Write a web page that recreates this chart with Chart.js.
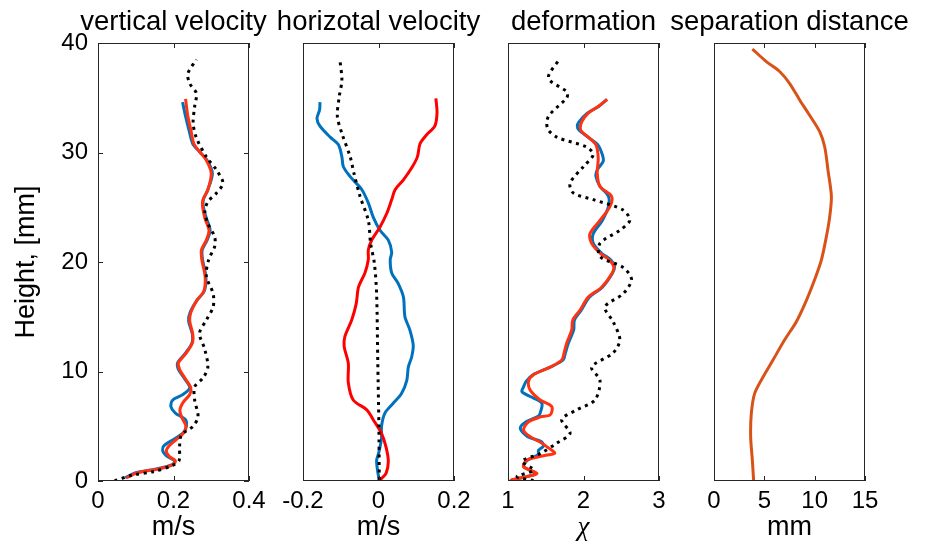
<!DOCTYPE html>
<html><head><meta charset="utf-8">
<script src="https://cdn.jsdelivr.net/npm/chart.js@4/dist/chart.umd.min.js"></script>
<style>
body{margin:0;background:#fff;width:930px;height:544px;position:relative;overflow:hidden}
canvas{position:absolute;top:0}
</style></head><body>
<canvas id="c1" width="347" height="544" style="left:0px;width:347px;height:544px"></canvas>
<canvas id="c2" width="301" height="544" style="left:228px;width:301px;height:544px"></canvas>
<canvas id="c3" width="301" height="544" style="left:433px;width:301px;height:544px"></canvas>
<canvas id="c4" width="289" height="544" style="left:645px;width:289px;height:544px"></canvas>
<script>
// ---------- data ----------
const panelTitles = ['vertical velocity','horizotal velocity','deformation','separation distance'];
const xAxisTitles = ['m/s','m/s','χ','mm'];
const heightTicks = [0,10,20,30,40];
const heightTickLabels = ['0','10','20','30','40'];
const vertTicks = [0,0.2,0.4];
const vertTickLabels = ['0','0.2','0.4'];
const horzTicks = [-0.2,0,0.2];
const horzTickLabels = ['-0.2','0','0.2'];
const defTicks = [1,2,3];
const defTickLabels = ['1','2','3'];
const sepTicks = [0,5,10,15];
const sepTickLabels = ['0','5','10','15'];

// vertical velocity
const vertRedH = [0.3,0.75,1.1,1.5,1.85,2.2,2.7,3.2,3.8,4.4,5.0,5.8,6.5,7.2,7.9,8.5,9.4,10.2,10.8,11.6,12.6,13.4,14.6,15.4,16.5,17.3,18.6,20.2,21.1,22.0,22.9,24.0,25.05,25.7,26.6,28.1,29.3,30.07,30.8,32.05,33.3,34.9];
const vertRedV = [0.075,0.105,0.16,0.199,0.205,0.19,0.181,0.188,0.208,0.227,0.233,0.222,0.217,0.226,0.243,0.246,0.23,0.216,0.213,0.232,0.25,0.251,0.243,0.246,0.262,0.28,0.284,0.275,0.274,0.287,0.294,0.283,0.277,0.278,0.291,0.300,0.287,0.269,0.254,0.246,0.238,0.232];
const vertBlueH = [0.3,0.75,1.1,1.5,1.85,2.2,2.7,3.2,3.8,4.4,5.0,5.6,6.2,6.8,7.4,7.9,8.5,9.4,10.2,10.8,11.6,12.6,13.4,14.6,15.4,16.5,17.3,18.6,20.2,21.1,22.0,22.9,24.0,25.05,25.7,26.6,28.1,29.3,30.07,30.8,32.05,33.3,34.6];
const vertBlueV = [0.072,0.10,0.155,0.197,0.203,0.185,0.172,0.174,0.200,0.226,0.234,0.232,0.205,0.193,0.198,0.225,0.243,0.228,0.213,0.211,0.230,0.249,0.25,0.24,0.244,0.262,0.281,0.286,0.277,0.276,0.289,0.297,0.287,0.279,0.279,0.291,0.303,0.289,0.269,0.251,0.241,0.232,0.224];
const vertBlackH = [0.03,0.55,0.85,1.45,1.9,3.1,4.2,5.0,5.9,7.4,8.6,9.4,10.4,12.0,13.5,14.7,15.9,17.1,18.7,20.2,21.4,22.3,23.5,24.6,25.5,26.3,27.2,28.4,29.6,31.4,32.7,34.2,35.4,36.3,37.2,38.5];
const vertBlackV = [0.044,0.093,0.146,0.199,0.215,0.216,0.221,0.252,0.265,0.256,0.256,0.278,0.291,0.283,0.269,0.287,0.305,0.305,0.287,0.293,0.309,0.309,0.291,0.283,0.291,0.314,0.331,0.314,0.287,0.26,0.252,0.256,0.2606,0.243,0.238,0.2606];

// horizontal velocity
const horzBlueH = [0.1,0.85,1.9,2.5,3.9,5.0,6.2,7.1,8.0,9.2,10.4,11.35,12.4,13.8,15.0,16.8,18.05,19.0,20.2,20.9,22.0,22.9,24.1,25.4,26.6,27.8,28.7,29.6,30.7,31.4,32.4,33.1,33.9,34.6];
const horzBlueV = [0.002,-0.002,-0.005,0.0,0.008,0.008,0.017,0.039,0.061,0.075,0.079,0.088,0.092,0.083,0.070,0.066,0.052,0.035,0.031,0.035,0.026,0.004,-0.014,-0.027,-0.044,-0.075,-0.093,-0.097,-0.106,-0.128,-0.155,-0.163,-0.156,-0.155];
const horzRedH = [0.1,0.7,1.8,3.1,4.35,5.6,6.5,7.4,9.0,10.75,12.3,13.2,14.7,16.2,17.7,19.0,20.2,21.1,22.0,23.2,24.45,25.7,26.6,27.5,28.6,29.6,30.8,31.6,32.4,33.6,34.95];
const horzRedV = [0.004,0.020,0.026,0.020,0.008,-0.014,-0.031,-0.067,-0.080,-0.080,-0.091,-0.089,-0.071,-0.059,-0.053,-0.036,-0.027,-0.027,-0.018,0.004,0.022,0.035,0.044,0.066,0.088,0.103,0.110,0.127,0.149,0.155,0.152];
const horzBlackH = [0.1,5.0,11.05,17.1,19.9,21.7,23.8,26.0,28.1,29.6,31.75,33.3,35.1,36.6,38.4];
const horzBlackV = [0.002,0.001,-0.002,-0.005,-0.011,-0.021,-0.027,-0.049,-0.065,-0.075,-0.097,-0.109,-0.104,-0.097,-0.102];

// deformation
const defRedH = [0.03,0.15,0.4,0.7,1.3,1.9,2.35,2.55,3.0,3.45,4.05,4.65,5.4,5.85,6.05,6.8,7.4,8.3,9.1,9.7,10.4,11.05,11.7,12.6,13.8,14.7,15.6,16.8,17.7,19.0,19.6,20.2,20.8,21.7,22.6,23.8,25.05,26.0,26.9,28.1,29.5,30.7,31.4,32.05,32.8,33.6,34.2,34.85];
const defRedV = [1.03,1.074,1.25,1.383,1.206,1.25,1.5,1.62,1.54,1.449,1.294,1.206,1.272,1.43,1.56,1.58,1.426,1.294,1.272,1.338,1.558,1.712,1.743,1.778,1.844,1.858,1.954,2.063,2.24,2.38,2.40,2.34,2.22,2.108,2.086,2.218,2.35,2.372,2.218,2.182,2.195,2.165,2.063,1.963,1.976,2.063,2.195,2.314];
const defBlueH = [0.03,0.15,0.4,0.7,1.3,1.9,2.4,2.8,3.2,3.6,4.05,4.8,5.4,5.9,6.2,7.1,7.6,8.15,8.6,9.1,9.7,10.4,11.05,11.7,12.6,13.8,14.7,15.6,16.8,17.7,19.0,19.6,20.2,20.8,21.7,22.6,23.8,25.05,26.0,26.9,27.8,28.4,29.2,29.8,30.7,31.4,32.05,32.4,32.8,33.6,34.2,34.85];
const defBlueV = [1.03,1.08,1.25,1.37,1.21,1.26,1.40,1.404,1.47,1.44,1.26,1.162,1.24,1.40,1.426,1.449,1.33,1.185,1.206,1.24,1.33,1.56,1.73,1.76,1.80,1.87,1.88,1.97,2.08,2.25,2.385,2.41,2.36,2.24,2.13,2.13,2.25,2.33,2.33,2.22,2.165,2.18,2.261,2.25,2.19,2.06,1.94,1.918,1.94,2.05,2.2,2.31];
const defBlackH = [0.03,0.4,1.0,1.8,2.5,3.45,4.35,5.6,6.5,7.4,9.2,10.4,11.7,12.9,14.55,15.9,17.1,18.4,19.5,20.5,21.7,22.9,23.8,24.75,25.7,26.3,27.2,28.7,29.8,30.5,31.4,32.2,33.3,35.0,35.55,36.8,38.6];
const defBlackV = [1.338,1.119,1.338,1.185,1.426,1.646,1.822,1.712,1.91,2.152,2.218,2.108,2.393,2.481,2.393,2.284,2.525,2.636,2.525,2.218,2.218,2.481,2.613,2.525,2.129,1.866,1.822,1.997,2.129,2.042,1.646,1.523,1.536,1.778,1.778,1.536,1.69];

// separation distance
const sepH = [0,1.9,4.05,6.2,8.0,9.5,11.05,12.9,14.55,16.5,18.4,20.2,22.3,24.1,26.0,28.4,30.5,31.9,33.4,34.8,36.3,37.4,38.3,39.45];
const sepV = [3.94,3.81,3.64,3.71,4.04,4.87,5.86,7.02,8.18,9.18,10.0,10.67,11.16,11.49,11.66,11.32,11.0,10.5,9.5,8.51,7.52,6.52,5.2,3.81];

// ---------- helpers ----------
const pts = (hs, vs) => hs.map((h, i) => ({x: vs[i], y: h}));
const solid = (label, hs, vs, color) => ({label, data: pts(hs, vs), showLine: true, borderColor: color, backgroundColor: color, borderWidth: 3, pointRadius: 0, tension: 0.3, fill: false});
const dotted = (label, hs, vs) => ({label, data: pts(hs, vs), showLine: true, borderColor: '#000', backgroundColor: '#000', borderWidth: 3, borderDash: [3, 4.5], borderCapStyle: 'butt', pointRadius: 0, tension: 0.3, fill: false});

const SANS = '"Liberation Sans", Arial, Helvetica, sans-serif';
const AXC = '#262626';

const boxPlugin = {
  id: 'boxTicks',
  afterDatasetsDraw(chart, args, opts) {
    const {ctx, chartArea: a, scales} = chart;
    ctx.save();
    ctx.strokeStyle = AXC; ctx.lineWidth = 1;
    ctx.strokeRect(Math.round(a.left) + 0.5, Math.round(a.top) + 0.5, Math.round(a.right - a.left) - 1, Math.round(a.bottom - a.top) - 1);
    const L = 5;
    ctx.beginPath();
    (opts.xTicks || []).forEach(v => {
      const px = Math.round(scales.x.getPixelForValue(v)) + 0.5;
      ctx.moveTo(px, a.bottom); ctx.lineTo(px, a.bottom - L);
      ctx.moveTo(px, a.top); ctx.lineTo(px, a.top + L);
    });
    (opts.yTicks || []).forEach(v => {
      const py = Math.round(scales.y.getPixelForValue(v)) + 0.5;
      ctx.moveTo(a.left, py); ctx.lineTo(a.left + L, py);
      ctx.moveTo(a.right, py); ctx.lineTo(a.right - L, py);
    });
    ctx.stroke();
    ctx.restore();
  }
};

function makeChart(id, title, xTitle, xMin, xMax, xTicks, xLabels, sideW, datasets, showY, xTitleFont) {
  const yScale = showY ? {
    type: 'linear', position: 'left', min: 0, max: 40,
    afterBuildTicks: s => { s.ticks = heightTicks.map(v => ({value: v})); },
    ticks: {font: {family: SANS, size: 24}, color: '#000', padding: 10, autoSkip: false, callback: (v, i) => heightTickLabels[i]},
    grid: {display: false, drawTicks: false}, border: {display: false},
    title: {display: true, text: 'Height, [mm]', font: {family: SANS, size: 27}, color: '#000', padding: {top: 10, bottom: 0}},
    afterFit: s => { s.width = sideW; }
  } : {
    type: 'linear', position: 'left', min: 0, max: 40,
    ticks: {display: false}, grid: {display: false, drawTicks: false}, border: {display: false},
    afterFit: s => { s.width = sideW; }
  };
  return new Chart(document.getElementById(id), {
    type: 'scatter',
    data: {datasets},
    options: {
      responsive: false, animation: false, devicePixelRatio: 1,
      layout: {padding: 0},
      plugins: {
        legend: {display: false}, tooltip: {enabled: false},
        title: {display: true, text: title, color: '#000', font: {family: SANS, size: 27.5, weight: 'normal'}, padding: {top: 5.7, bottom: 4.3}},
        boxTicks: {xTicks: xTicks, yTicks: showY ? heightTicks : []}
      },
      scales: {
        x: {
          type: 'linear', position: 'bottom', min: xMin, max: xMax,
          afterBuildTicks: s => { s.ticks = xTicks.map(v => ({value: v})); },
          ticks: {font: {family: SANS, size: 24}, color: '#000', padding: 5.6, autoSkip: false, maxRotation: 0, callback: (v, i) => xLabels[i]},
          grid: {display: false, drawTicks: false}, border: {display: false},
          title: {display: true, text: xTitle, color: '#000', font: xTitleFont || {family: SANS, size: 27}, padding: {top: 0, bottom: 0}},
          afterFit: s => { s.height = 63; }
        },
        y: yScale,
        y2: {
          type: 'linear', position: 'right', min: 0, max: 40,
          ticks: {display: false}, grid: {display: false, drawTicks: false}, border: {display: false},
          afterFit: s => { s.width = sideW; }
        }
      }
    },
    plugins: [boxPlugin]
  });
}

const BLUE = '#0072BD';
const RED = '#FF3311';

makeChart('c1', panelTitles[0], xAxisTitles[0], 0, 0.4, vertTicks, vertTickLabels, 98, [
  dotted('black', vertBlackH, vertBlackV),
  solid('red', vertRedH, vertRedV, RED),
  solid('blue', vertBlueH, vertBlueV, BLUE)
], true);

makeChart('c2', panelTitles[1], xAxisTitles[1], -0.2, 0.2, horzTicks, horzTickLabels, 75, [
  dotted('black', horzBlackH, horzBlackV),
  solid('red', horzRedH, horzRedV, '#FF0000'),
  solid('blue', horzBlueH, horzBlueV, BLUE)
], false);

makeChart('c3', panelTitles[2], xAxisTitles[2], 1, 3, defTicks, defTickLabels, 75, [
  dotted('black', defBlackH, defBlackV),
  solid('red', defRedH, defRedV, RED),
  solid('blue', defBlueH, defBlueV, BLUE)
], false, {family: '"Liberation Serif", "Times New Roman", serif', size: 27, style: 'italic'});

makeChart('c4', panelTitles[3], xAxisTitles[3], 0, 15, sepTicks, sepTickLabels, 69, [
  solid('separation', sepH, sepV, '#D95319')
], false);
</script>
</body></html>
